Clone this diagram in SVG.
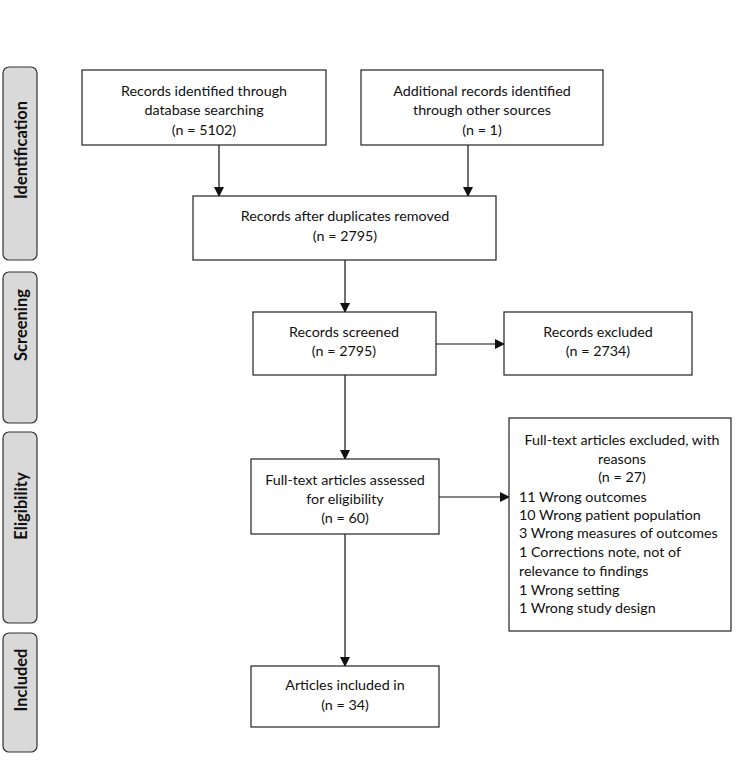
<svg xmlns="http://www.w3.org/2000/svg" width="745" height="772" viewBox="0 0 745 772">
<style>
.phase{fill:#d9d9d9;stroke:#333;stroke-width:1.2}
.ptxt{font-family:Lato,"Liberation Sans",sans-serif;font-weight:bold;font-size:16.5px;fill:#111;text-anchor:middle}
.box{fill:#fff;stroke:#222;stroke-width:1.2}
.t{font-family:Lato,"Liberation Sans",sans-serif;font-size:14.3px;fill:#111;text-anchor:middle}
.l{font-family:Lato,"Liberation Sans",sans-serif;font-size:14.3px;fill:#111}
.c{stroke:#111;stroke-width:1.2;fill:none;marker-end:url(#ah)}
</style>
<defs>
<marker id="ah" markerWidth="10" markerHeight="10" refX="9" refY="5" orient="auto" markerUnits="userSpaceOnUse">
<path d="M0,0 L10,5 L0,10 z" fill="#111"/>
</marker>
</defs>
<rect width="745" height="772" fill="#fff"/>
<g id="phase-identification"><rect class="phase" x="3" y="67" width="34" height="193" rx="6"/><text class="ptxt" transform="rotate(-90 27 150)" x="27" y="150">Identification</text></g>
<g id="phase-screening"><rect class="phase" x="3" y="272" width="34" height="151" rx="6"/><text class="ptxt" transform="rotate(-90 27 325)" x="27" y="325">Screening</text></g>
<g id="phase-eligibility"><rect class="phase" x="3" y="432" width="34" height="191" rx="6"/><text class="ptxt" transform="rotate(-90 27 506)" x="27" y="506">Eligibility</text></g>
<g id="phase-included"><rect class="phase" x="3" y="633" width="34" height="119" rx="6"/><text class="ptxt" transform="rotate(-90 27 680)" x="27" y="680">Included</text></g>

<g id="connectors">
<line class="c" x1="219" y1="145" x2="219" y2="196"/>
<line class="c" x1="468" y1="145" x2="468" y2="196"/>
<line class="c" x1="345" y1="260" x2="345" y2="312"/>
<line class="c" x1="436" y1="344" x2="504" y2="344"/>
<line class="c" x1="345" y1="375" x2="345" y2="459"/>
<line class="c" x1="439" y1="497" x2="509" y2="497"/>
<line class="c" x1="345" y1="534" x2="345" y2="666"/>
</g>

<g id="n-database"><rect class="box" x="82" y="70" width="244" height="75"/>
<text class="t" x="204" y="96">Records identified through</text>
<text class="t" x="204" y="115">database searching</text>
<text class="t" x="204" y="135">(n = 5102)</text></g>
<g id="n-other"><rect class="box" x="361" y="70" width="242" height="75"/>
<text class="t" x="482" y="96">Additional records identified</text>
<text class="t" x="482" y="115">through other sources</text>
<text class="t" x="482" y="135">(n = 1)</text></g>
<g id="n-dups"><rect class="box" x="193" y="196" width="303" height="64"/>
<text class="t" x="345" y="221">Records after duplicates removed</text>
<text class="t" x="345" y="241">(n = 2795)</text></g>
<g id="n-screened"><rect class="box" x="253" y="312" width="183" height="63"/>
<text class="t" x="344" y="337">Records screened</text>
<text class="t" x="344" y="356">(n = 2795)</text></g>
<g id="n-excluded"><rect class="box" x="504" y="312" width="188" height="63"/>
<text class="t" x="598" y="337">Records excluded</text>
<text class="t" x="598" y="356">(n = 2734)</text></g>
<g id="n-fulltext"><rect class="box" x="251" y="459" width="188" height="75"/>
<text class="t" x="345" y="485">Full-text articles assessed</text>
<text class="t" x="345" y="504">for eligibility</text>
<text class="t" x="345" y="523">(n = 60)</text></g>
<g id="n-ftexcluded"><rect class="box" x="509" y="418" width="222" height="213"/>
<text class="t" x="622" y="445">Full-text articles excluded, with</text>
<text class="t" x="622" y="464">reasons</text>
<text class="t" x="622" y="482">(n = 27)</text>
<text class="l" x="519" y="502">11 Wrong outcomes</text>
<text class="l" x="519" y="520">10 Wrong patient population</text>
<text class="l" x="519" y="538">3 Wrong measures of outcomes</text>
<text class="l" x="519" y="557">1 Corrections note, not of</text>
<text class="l" x="519" y="576">relevance to findings</text>
<text class="l" x="519" y="595">1 Wrong setting</text>
<text class="l" x="519" y="613">1 Wrong study design</text></g>
<g id="n-included"><rect class="box" x="251" y="666" width="188" height="61"/>
<text class="t" x="345" y="690">Articles included in</text>
<text class="t" x="345" y="710">(n = 34)</text></g>
</svg>
